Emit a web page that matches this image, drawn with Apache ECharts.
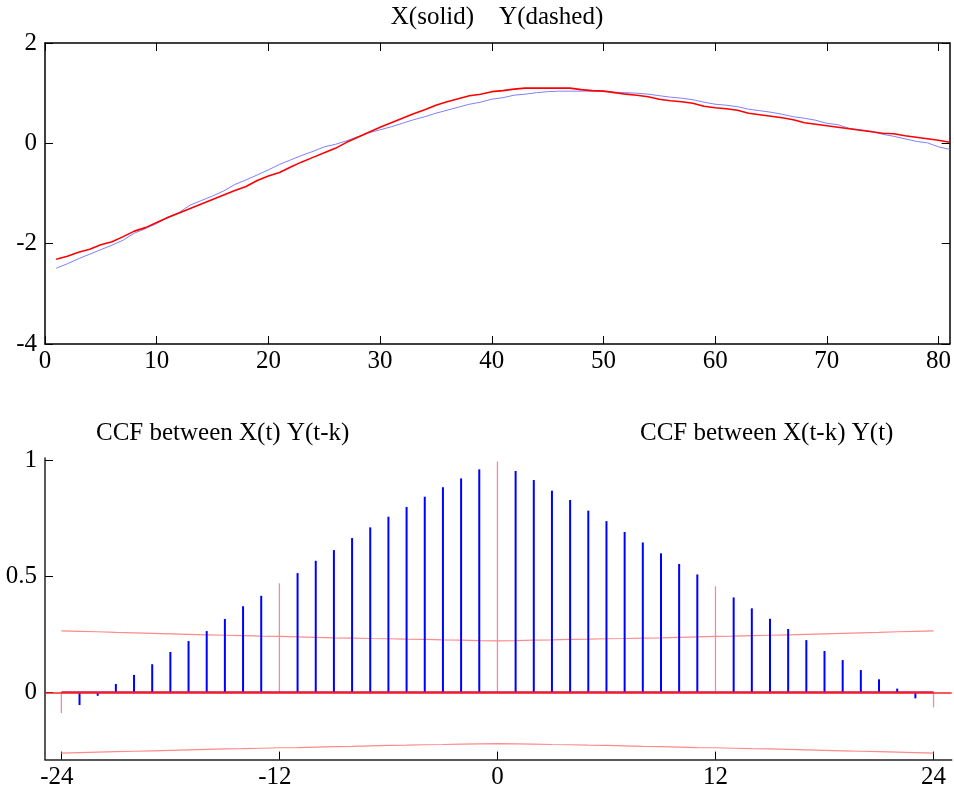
<!DOCTYPE html>
<html>
<head>
<meta charset="utf-8">
<script src="https://cdn.jsdelivr.net/npm/echarts@6/dist/echarts.min.js"></script>
<style>
  html, body { margin: 0; padding: 0; background: #ffffff; }
  #chart { width: 954px; height: 793px; }
</style>
</head>
<body>
<div id="chart"></div>
<script>
// Time index of the two series (upper panel)
const timeIndex = [
  1, 2, 3, 4, 5, 6, 7, 8, 9, 10, 11, 12, 13, 14, 15, 16, 17, 18, 19, 20,
  21, 22, 23, 24, 25, 26, 27, 28, 29, 30, 31, 32, 33, 34, 35, 36, 37, 38, 39, 40,
  41, 42, 43, 44, 45, 46, 47, 48, 49, 50, 51, 52, 53, 54, 55, 56, 57, 58, 59, 60,
  61, 62, 63, 64, 65, 66, 67, 68, 69, 70, 71, 72, 73, 74, 75, 76, 77, 78, 79, 80, 81
];

// X series (red)
const seriesX = [
  -2.31, -2.25, -2.17, -2.11, -2.02, -1.96, -1.86, -1.75, -1.68, -1.58,
  -1.48, -1.39, -1.30, -1.21, -1.12, -1.03, -0.94, -0.86, -0.74, -0.65,
  -0.58, -0.47, -0.37, -0.28, -0.19, -0.10, 0.02, 0.12, 0.22, 0.32,
  0.41, 0.50, 0.59, 0.67, 0.76, 0.83, 0.89, 0.95, 0.98, 1.03,
  1.05, 1.08, 1.10, 1.10, 1.10, 1.10, 1.10, 1.07, 1.05, 1.04,
  1.01, 0.98, 0.96, 0.93, 0.88, 0.85, 0.83, 0.80, 0.74, 0.71,
  0.69, 0.66, 0.60, 0.57, 0.54, 0.51, 0.47, 0.41, 0.38, 0.35,
  0.32, 0.29, 0.26, 0.23, 0.20, 0.19, 0.15, 0.12, 0.09, 0.06, 0.02
];

// Y series (light blue)
const seriesY = [
  -2.49, -2.40, -2.30, -2.21, -2.12, -2.03, -1.93, -1.79, -1.70, -1.60,
  -1.47, -1.38, -1.23, -1.14, -1.05, -0.95, -0.82, -0.73, -0.63, -0.53,
  -0.42, -0.33, -0.24, -0.16, -0.07, -0.02, 0.05, 0.13, 0.21, 0.27,
  0.33, 0.40, 0.47, 0.53, 0.60, 0.66, 0.72, 0.78, 0.82, 0.88,
  0.91, 0.96, 0.98, 1.01, 1.03, 1.04, 1.04, 1.04, 1.04, 1.04,
  1.02, 1.01, 1.00, 0.98, 0.95, 0.92, 0.90, 0.87, 0.82, 0.78,
  0.76, 0.73, 0.68, 0.65, 0.62, 0.58, 0.53, 0.50, 0.46, 0.40,
  0.37, 0.30, 0.27, 0.24, 0.18, 0.14, 0.09, 0.04, 0.01, -0.07, -0.12
];

// Lags k of the cross-correlation function (lower panel)
const lags = [
  -24, -23, -22, -21, -20, -19, -18, -17, -16, -15, -14, -13, -12,
  -11, -10, -9, -8, -7, -6, -5, -4, -3, -2, -1, 0,
  1, 2, 3, 4, 5, 6, 7, 8, 9, 10, 11, 12,
  13, 14, 15, 16, 17, 18, 19, 20, 21, 22, 23, 24
];

// Cross-correlation at each lag
const ccf = [
  -0.090, -0.055, -0.015, 0.036, 0.075, 0.121, 0.174, 0.221, 0.264, 0.316, 0.371, 0.416, 0.470,
  0.514, 0.567, 0.613, 0.665, 0.711, 0.757, 0.799, 0.843, 0.884, 0.922, 0.961, 0.995,
  0.954, 0.915, 0.869, 0.829, 0.783, 0.738, 0.691, 0.646, 0.599, 0.553, 0.508, 0.457,
  0.409, 0.362, 0.317, 0.273, 0.225, 0.178, 0.139, 0.096, 0.056, 0.016, -0.026, -0.065
];

// Approximate significance limits per lag
const upperLimit = [
  0.265, 0.263, 0.261, 0.258, 0.256, 0.254, 0.252, 0.250, 0.248, 0.246, 0.244, 0.242, 0.241,
  0.239, 0.237, 0.235, 0.234, 0.232, 0.231, 0.229, 0.228, 0.226, 0.225, 0.223, 0.222,
  0.223, 0.225, 0.226, 0.228, 0.229, 0.231, 0.232, 0.234, 0.235, 0.237, 0.239, 0.241,
  0.242, 0.244, 0.246, 0.248, 0.250, 0.252, 0.254, 0.256, 0.258, 0.261, 0.263, 0.265
];
const lowerLimit = [
  -0.262, -0.260, -0.258, -0.256, -0.254, -0.252, -0.250, -0.248, -0.246, -0.244, -0.243, -0.241, -0.239,
  -0.238, -0.236, -0.234, -0.233, -0.231, -0.229, -0.228, -0.226, -0.225, -0.223, -0.222, -0.221,
  -0.222, -0.223, -0.225, -0.226, -0.228, -0.229, -0.231, -0.233, -0.234, -0.236, -0.238, -0.239,
  -0.241, -0.243, -0.244, -0.246, -0.248, -0.250, -0.252, -0.254, -0.256, -0.258, -0.260, -0.262
];

// Tick positions
const timeTicks = [0, 10, 20, 30, 40, 50, 60, 70, 80];
const levelTicks = [-4, -2, 0, 2];
const lagTicks = [-24, -12, 0, 12, 24];
const ccfTicks = [0, 0.5, 1];

const FONT = "'Liberation Serif', 'Times New Roman', serif";
const FS = 25;

const chart = echarts.init(document.getElementById('chart'), null, { renderer: 'canvas' });

function frameAxis(extra) {
  return Object.assign({
    type: 'value',
    splitLine: { show: false },
    axisLine: { show: true, onZero: false, lineStyle: { color: '#000', width: 1.5 } },
    axisTick: { show: true, inside: true, length: 8, lineStyle: { color: '#000', width: 1 } },
    axisLabel: { show: false }
  }, extra);
}

// Lag labels keep their digits centred on the tick, with the minus sign hanging to the left
function lagLabel(v) {
  return v < 0 ? '-' + Math.abs(v) + '{pad| }' : String(v);
}

const option = {
  animation: false,
  backgroundColor: '#ffffff',
  title: [
    { text: 'X(solid)    Y(dashed)', left: 497, top: 5, textAlign: 'center', padding: 0,
      textStyle: { fontFamily: FONT, fontSize: FS, fontWeight: 'normal', color: '#000' } },
    { text: 'CCF between X(t) Y(t-k)', left: 96, top: 421, padding: 0,
      textStyle: { fontFamily: FONT, fontSize: FS, fontWeight: 'normal', color: '#000' } },
    { text: 'CCF between X(t-k) Y(t)', left: 640, top: 421, padding: 0,
      textStyle: { fontFamily: FONT, fontSize: FS, fontWeight: 'normal', color: '#000' } }
  ],
  grid: [
    { left: 45, top: 43, width: 906.7, height: 301, containLabel: false },
    { left: 45, top: 458, width: 906.7, height: 301.6, containLabel: false }
  ],
  xAxis: [
    frameAxis({ gridIndex: 0, position: 'bottom', min: 0, max: 81,
      axisTick: { show: true, inside: true, length: 8, customValues: timeTicks, lineStyle: { color: '#000', width: 1 } },
      axisLabel: { show: true, customValues: timeTicks, margin: 5, fontFamily: FONT, fontSize: FS, color: '#000' } }),
    frameAxis({ gridIndex: 0, position: 'top', min: 0, max: 81,
      axisTick: { show: true, inside: true, length: 8, customValues: timeTicks, lineStyle: { color: '#000', width: 1 } } }),
    frameAxis({ gridIndex: 1, position: 'bottom', min: -24.9, max: 25,
      axisLine: { show: true, onZero: false, lineStyle: { color: '#222', width: 1.5 } },
      axisTick: { show: true, inside: true, length: 8, customValues: lagTicks, lineStyle: { color: '#000', width: 1 } },
      axisLabel: { show: true, customValues: lagTicks, margin: 5, fontFamily: FONT, fontSize: FS, color: '#000',
        formatter: lagLabel,
        rich: { pad: { width: 9, fontFamily: FONT, fontSize: FS } } } })
  ],
  yAxis: [
    frameAxis({ gridIndex: 0, position: 'left', min: -4, max: 2,
      axisTick: { show: true, inside: true, length: 8, customValues: levelTicks, lineStyle: { color: '#000', width: 1 } },
      axisLabel: { show: true, customValues: levelTicks, margin: 8, fontFamily: FONT, fontSize: FS, color: '#000' } }),
    frameAxis({ gridIndex: 0, position: 'right', min: -4, max: 2,
      axisTick: { show: true, inside: true, length: 8, customValues: levelTicks, lineStyle: { color: '#000', width: 1 } } }),
    frameAxis({ gridIndex: 1, position: 'left', min: -0.29, max: 1.01,
      axisLine: { show: true, onZero: false, lineStyle: { color: '#222', width: 1.5 } },
      axisTick: { show: true, inside: true, length: 8, customValues: ccfTicks, lineStyle: { color: '#000', width: 1 } },
      axisLabel: { show: true, customValues: ccfTicks, margin: 8, fontFamily: FONT, fontSize: FS, color: '#000' } })
  ],
  series: [
    {
      name: 'Y', type: 'line', xAxisIndex: 0, yAxisIndex: 0,
      data: timeIndex.map((t, i) => [t, seriesY[i]]),
      showSymbol: false, smooth: false, z: 2,
      lineStyle: { color: '#8080ff', width: 1 }
    },
    {
      name: 'X', type: 'line', xAxisIndex: 0, yAxisIndex: 0,
      data: timeIndex.map((t, i) => [t, seriesX[i]]),
      showSymbol: false, smooth: false, z: 3,
      lineStyle: { color: '#ff0000', width: 1.6 }
    },
    {
      name: 'upper', type: 'line', xAxisIndex: 2, yAxisIndex: 2,
      data: lags.map((k, i) => [k, upperLimit[i]]),
      showSymbol: false, z: 2,
      lineStyle: { color: '#ff8a8a', width: 1.2 },
      markLine: {
        silent: true, symbol: 'none', label: { show: false },
        lineStyle: { color: '#ff2020', width: 1.5, type: 'solid' },
        data: [{ yAxis: 0 }]
      }
    },
    {
      name: 'lower', type: 'line', xAxisIndex: 2, yAxisIndex: 2,
      data: lags.map((k, i) => [k, lowerLimit[i]]),
      showSymbol: false, z: 2,
      lineStyle: { color: '#ff8a8a', width: 1.2 }
    },
    {
      name: 'ccf', type: 'custom', xAxisIndex: 2, yAxisIndex: 2, z: 3,
      data: lags.map((k, i) => [k, ccf[i]]),
      renderItem: function (params, api) {
        const k = api.value(0);
        const v = api.value(1);
        const base = api.coord([k, 0]);
        const tip = api.coord([k, v]);
        const seasonal = k % 12 === 0;
        return {
          type: 'line',
          shape: { x1: base[0], y1: base[1], x2: tip[0], y2: tip[1] },
          style: { stroke: seasonal ? '#f08aa6' : '#0000ff', lineWidth: seasonal ? 1.3 : 2 }
        };
      }
    },
    {
      name: 'baseline', type: 'line', xAxisIndex: 2, yAxisIndex: 2,
      data: [[lags[0], 0], [lags[lags.length - 1], 0]],
      showSymbol: false, z: 4,
      lineStyle: { color: '#c4105c', width: 2 }
    }
  ]
};

chart.setOption(option);
</script>
</body>
</html>
